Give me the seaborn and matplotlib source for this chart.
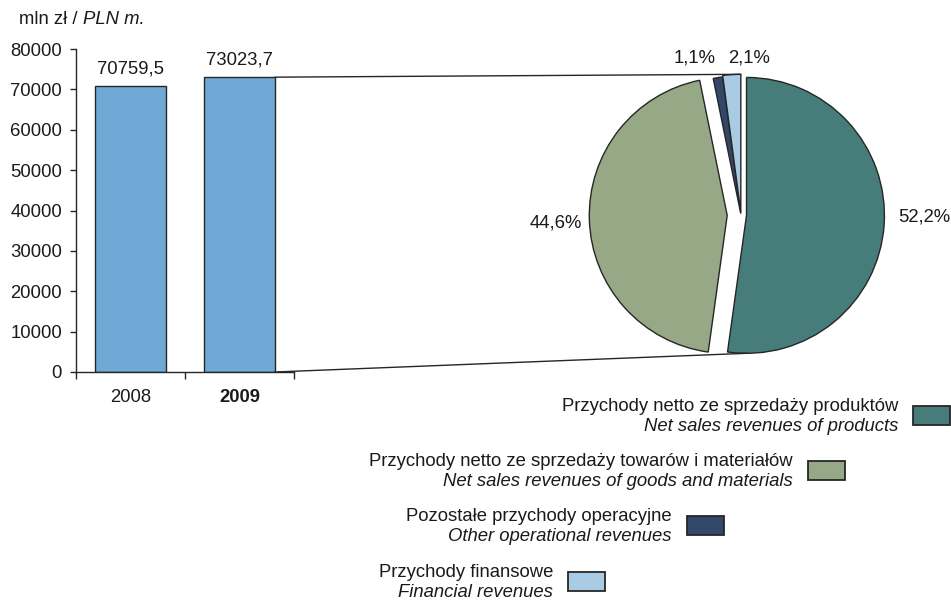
import matplotlib
matplotlib.use("Agg")
import matplotlib.pyplot as plt
import seaborn as sns
from matplotlib.patches import ConnectionPatch, Rectangle
from matplotlib.ticker import FixedLocator

# data
years = ["2008", "2009"]
revenue_total = [70759.5, 73023.7]

structure_shares = [52.2, 44.6, 1.1, 2.1]
structure_colors = ["#467c79", "#96a886", "#33476a", "#a9cbe3"]
names_pl = ["Przychody netto ze sprzedaży produktów",
            "Przychody netto ze sprzedaży towarów i materiałów",
            "Pozostałe przychody operacyjne",
            "Przychody finansowe"]
names_en = ["Net sales revenues of products",
            "Net sales revenues of goods and materials",
            "Other operational revenues",
            "Financial revenues"]

def pl_num(v):
    return f"{v:.1f}".replace(".", ",")

sns.set_theme(style="white")
plt.rcParams['font.family'] = ['Liberation Sans', 'DejaVu Sans']
FS = 13.3
EDGE = "#262626"
TXT = "#1a1a1a"

W, H = 951, 601
fig = plt.figure(figsize=(W / 100, H / 100), dpi=100)

def fig_box(x0, y0, x1, y1):
    # pixel box (top-left origin) -> figure fraction rect
    return [x0 / W, 1 - y1 / H, (x1 - x0) / W, (y1 - y0) / H]

'''bar part'''
ax1 = fig.add_axes(fig_box(76, 49, 294, 372))
sns.barplot(x=years, y=revenue_total, ax=ax1, color="#6fa9d6", saturation=1,
            edgecolor=EDGE, linewidth=1, width=0.65)
ax1.set_xlim(-0.5, 1.5)
ax1.set_ylim(0, 80000)
ax1.set_yticks(range(0, 80001, 10000))
ax1.set_yticklabels([str(v) for v in range(0, 80001, 10000)], fontsize=FS, color=TXT)
ax1.set_xlabel("")
ax1.set_ylabel("")
for s in ["top", "right"]:
    ax1.spines[s].set_visible(False)
for s in ["left", "bottom"]:
    ax1.spines[s].set_color(EDGE)
    ax1.spines[s].set_linewidth(1)
ax1.tick_params(axis="y", left=True, length=4, width=1, color=EDGE, direction="out", pad=6)
ax1.tick_params(axis="x", which="major", bottom=False, length=0, pad=12, labelsize=FS, labelcolor=TXT)
ax1.xaxis.set_minor_locator(FixedLocator([-0.5, 0.5, 1.5]))
ax1.tick_params(axis="x", which="minor", bottom=True, length=5, width=1, color=EDGE, direction="out")
for lab in ax1.get_xticklabels():
    if lab.get_text() == "2009":
        lab.set_fontweight("bold")

for bar, v in zip(ax1.patches, revenue_total):
    ax1.annotate(pl_num(v), (bar.get_x() + bar.get_width() / 2, bar.get_height()),
                 xytext=(0, 6), textcoords="offset points", ha="center", va="bottom",
                 fontsize=FS, color=TXT)

unit_txt = fig.text(19 / W, 1 - 19 / H, "mln zł / ", fontsize=FS, va="center", ha="left", color=TXT)
ax1.annotate("PLN m.", xy=(1, 0.5), xycoords=unit_txt, va="center", ha="left",
             fontsize=FS, style="italic", color=TXT)

'''pie part'''
ax2 = fig.add_axes(fig_box(581, 55, 901, 375))
pct_labels = [pl_num(v) + "%" for v in structure_shares]
wedges, texts = ax2.pie(structure_shares, colors=structure_colors, startangle=90, counterclock=False,
                        explode=[0.04, 0.10, 0.01, 0.02], labels=pct_labels, labeldistance=1.1,
                        wedgeprops=dict(edgecolor=EDGE, linewidth=1),
                        textprops=dict(fontsize=FS, color=TXT))
ax2.set_xlim(-1.16, 1.16)
ax2.set_ylim(-1.16, 1.16)
ax2.axis("off")
texts[0].set_y(wedges[0].center[1] - 0.01)
x1, y1 = texts[1].get_position()
texts[1].set_position((x1 + 0.045, y1 - 0.02))
texts[2].set_y(texts[2].get_position()[1] + 0.04)
x3, y3 = texts[3].get_position()
texts[3].set_ha("left")
texts[3].set_position((x3 - 0.02, y3 + 0.02))

# lines linking the 2009 bar with the pie
bar09 = ax1.patches[1]
x_edge = bar09.get_x() + bar09.get_width()
top_pt = (wedges[3].center[0], wedges[3].center[1] + wedges[3].r)
bot_pt = (wedges[0].center[0], wedges[0].center[1] - wedges[0].r)
for ya, pb in [(bar09.get_height(), top_pt), (0, bot_pt)]:
    con = ConnectionPatch(xyA=(x_edge, ya), coordsA=ax1.transData, xyB=pb, coordsB=ax2.transData,
                          color=EDGE, lw=1)
    fig.add_artist(con)

'''legend'''
legend_right = [898, 793, 672, 553]
legend_base = [411, 466, 521, 577]
for pl, en, col, xr, yb in zip(names_pl, names_en, structure_colors, legend_right, legend_base):
    fig.text(xr / W, 1 - yb / H, pl, fontsize=FS, ha="right", va="baseline", color=TXT)
    fig.text(xr / W, 1 - (yb + 20) / H, en, fontsize=FS, ha="right", va="baseline",
             style="italic", color=TXT)
    fig.add_artist(Rectangle(((xr + 15) / W, 1 - (yb + 14) / H), 37 / W, 19 / H,
                             transform=fig.transFigure, facecolor=col, edgecolor=EDGE, lw=1.3))

plt.savefig("out.png", dpi=100)
